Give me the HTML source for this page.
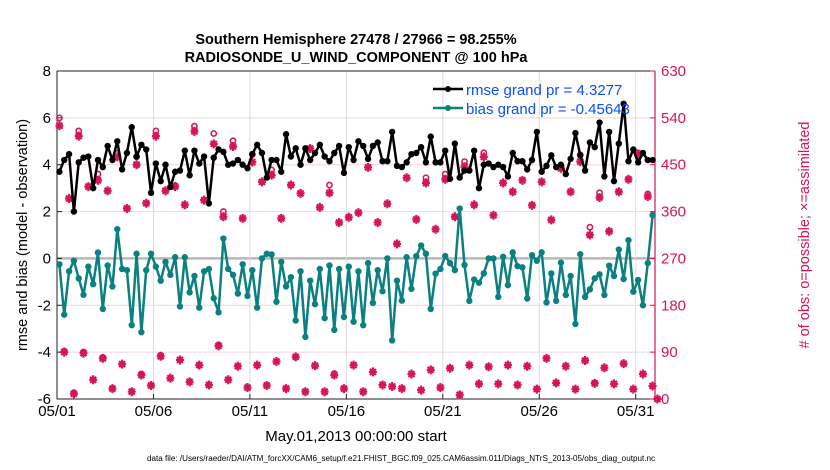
<!DOCTYPE html>
<html><head><meta charset="utf-8"><style>
body{margin:0;background:#fff;}
svg{display:block;font-family:"Liberation Sans",sans-serif;}
</style></head><body>
<svg id="chart" width="830" height="470" viewBox="0 0 830 470">
<text x="356" y="44" text-anchor="middle" font-size="14.5" font-weight="bold">Southern Hemisphere 27478 / 27966 = 98.255%</text>
<text x="356" y="62" text-anchor="middle" font-size="14.5" font-weight="bold">RADIOSONDE_U_WIND_COMPONENT @ 100 hPa</text>
<text transform="translate(27,235) rotate(-90)" text-anchor="middle" font-size="14.5">rmse and bias (model - observation)</text>
<text transform="translate(809,235) rotate(-90)" text-anchor="middle" font-size="14.5" fill="#d6145a"># of obs: o=possible; ×=assimilated</text>
<text x="356" y="441" text-anchor="middle" font-size="15">May.01,2013 00:00:00 start</text>
<text x="147" y="461" font-size="8" textLength="508" lengthAdjust="spacingAndGlyphs">data file: /Users/raeder/DAI/ATM_forcXX/CAM6_setup/f.e21.FHIST_BGC.f09_025.CAM6assim.011/Diags_NTrS_2013-05/obs_diag_output.nc</text>
<g id="grid"></g><g id="axes"></g><g id="marks"></g>
<g>
<line x1="433" y1="89" x2="463" y2="89" stroke="#000" stroke-width="2.5"/><circle cx="448" cy="89" r="3" fill="#000"/>
<text x="466" y="95" font-size="15" fill="#0a50f0">rmse grand pr = 4.3277</text>
<line x1="433" y1="108" x2="463" y2="108" stroke="#0a8080" stroke-width="2.5"/><circle cx="448" cy="108" r="3" fill="#0a8080"/>
<text x="466" y="114" font-size="15" fill="#0a50f0">bias grand pr = -0.45643</text>
</g>
</svg>
<script>
const rmse=[3.7,4.2,4.45,2.0,4.1,4.3,4.35,3.0,4.2,3.9,4.8,4.2,5.0,3.8,4.5,5.6,4.35,4.85,4.65,2.8,4.05,3.3,4.0,3.05,3.7,3.75,4.6,3.55,4.6,4.05,4.35,2.35,4.3,4.65,4.55,4.0,4.05,4.2,4.0,3.85,4.45,4.85,
4.5,3.45,4.2,4.2,3.7,5.3,4.35,4.7,4.0,4.7,4.2,4.5,4.85,4.35,4.15,4.5,4.8,3.65,4.75,4.2,5.0,4.8,4.25,4.8,4.95,4.15,4.15,5.4,3.95,3.9,4.1,4.45,4.5,4.75,4.1,5.2,4.1,4.1,4.6,3.4,4.9,
3.45,3.75,3.75,4.6,3.0,4.0,4.05,3.9,4.0,3.9,3.5,4.5,4.15,4.15,3.8,4.2,5.4,3.7,3.95,4.4,3.9,4.0,3.6,4.25,5.35,4.4,3.75,4.95,4.75,5.8,3.5,5.4,3.3,4.9,6.6,4.15,4.65,4.1,4.5,4.2,4.2];
const bias=[-0.25,-2.4,-0.55,-0.1,-0.85,-1.55,-0.35,-1.1,0.25,-2.15,-0.3,-1.2,1.25,-0.45,-0.5,-2.85,0.2,-3.15,-0.5,0.2,-0.35,-0.95,-0.15,-0.7,0.05,-2.05,0.05,-1.45,-0.75,-2.1,-0.55,-0.45,-1.7,-2.3,0.85,-0.45,-0.7,-1.5,-0.25,-1.6,-0.5,-2.1,
0.0,0.2,0.17,-1.85,-0.15,-1.2,-0.8,-2.65,-0.55,-3.35,-0.95,-1.95,-0.45,-2.55,-0.3,-3.05,-0.45,-2.5,-0.35,-2.7,-0.55,-2.85,-0.2,-1.9,-0.5,-1.4,0.0,-3.5,-0.95,-1.8,0.05,-1.3,0.1,0.55,0.2,-2.15,-0.65,-0.45,0.1,-0.2,-0.5,
2.13,-0.28,-1.81,-0.9,-1.04,-0.64,0,0,-1.64,0.07,-1.14,0.26,-0.33,-0.38,-1.71,0.14,-0.1,0.26,-1.88,-0.64,-1.81,-0.18,-1.56,-0.75,-2.8,0.18,-1.64,-1.32,-0.85,-0.68,-1.56,-0.31,-0.75,0.38,-0.88,0.78,-1.42,-0.92,-2.0,-0.2,1.85];
const nassim=[525,90,385,10,505,88,408,37,420,78,400,20,465,67,366,14,450,46,376,26,505,82,400,40,408,75,373,33,514,65,382,27,490,102,350,37,485,63,347,22,455,65,
417,26,430,72,347,20,411,81,395,14,481,64,368,14,396,46,339,20,349,65,358,14,445,52,339,27,375,24,298,20,425,48,345,17,415,56,326,22,422,59,350,
8,446,65,373,29,465,62,353,29,415,65,398,27,420,63,372,19,417,78,344,31,443,63,398,19,456,74,315,30,387,60,322,29,398,68,422,19,469,48,389,25,0];
const nposs=[540,92,385,12,515,90,408,37,432,80,400,20,472,67,366,14,465,48,376,26,515,84,400,40,410,75,373,33,524,65,382,27,510,104,360,37,496,63,347,22,470,65,
417,26,440,72,347,20,411,81,395,14,481,64,368,14,411,49,339,20,349,65,358,14,445,52,339,27,375,24,298,20,425,48,345,17,425,56,326,22,432,59,350,
8,456,65,373,29,473,62,353,29,415,65,398,27,420,63,372,19,417,78,344,31,447,63,398,19,469,74,330,31,396,60,322,29,398,68,422,19,473,48,394,25,0];
const xTickLabels=["05/01","05/06","05/11","05/16","05/21","05/26","05/31"];
const xTickDays=[0,5,10,15,20,25,30];
const yLeftTicks=[-6,-4,-2,0,2,4,6,8];
const yRightTicks=[0,90,180,270,360,450,540,630];

const X0=57,X1=655,Y0=71,Y1=399;
const xs=d=>X0+(d/31)*(X1-X0);
const yl=v=>Y1-(v+6)/14*(Y1-Y0);
const yr=c=>Y1-c/630*(Y1-Y0);
const tOf=i=>0.125+0.25*i;
const NS="http://www.w3.org/2000/svg";
function mk(tag,attrs,parent){const e=document.createElementNS(NS,tag);for(const k in attrs)e.setAttribute(k,attrs[k]);parent.appendChild(e);return e;}
const grid=document.getElementById('grid'),axes=document.getElementById('axes'),marks=document.getElementById('marks');
const CR="#d6145a";
yLeftTicks.forEach(v=>{
  if(v===-6||v===8)return;
  const l=mk('line',{x1:X0,x2:X1,y1:yl(v),y2:yl(v),stroke:v===0?"#b8b8b8":"#f2d4df","stroke-width":v===0?2.5:1},grid);
  
  
});
xTickDays.forEach(d=>{
  const l=mk('line',{x1:xs(d),x2:xs(d),y1:Y0,y2:Y1,stroke:"#dcdcdc","stroke-width":1},grid);
  
  
});
const frame=mk('path',{d:`M${X0},${Y0}H${X1}M${X0},${Y0}V${Y1}H${X1}`,stroke:"#222",fill:"none","stroke-width":1},axes);


const ra=mk('line',{x1:X1,x2:X1,y1:Y0,y2:Y1,stroke:CR,"stroke-width":1.2},axes);


yLeftTicks.forEach(v=>{
  mk('line',{x1:X0,x2:X0+5,y1:yl(v),y2:yl(v),stroke:"#222"},axes);
  const t=mk('text',{x:X0-6,y:yl(v)+5,"text-anchor":"end","font-size":15},axes);
  t.textContent=v;
  
  
});
yRightTicks.forEach(c=>{
  mk('line',{x1:X1-5,x2:X1,y1:yr(c),y2:yr(c),stroke:CR},axes);
  const t=mk('text',{x:X1+6,y:yr(c)+5,"font-size":15,fill:CR},axes);
  t.textContent=c;
  
  
});
xTickDays.forEach((d,i)=>{
  mk('line',{x1:xs(d),x2:xs(d),y1:Y1,y2:Y1-5,stroke:"#222"},axes);
  const t=mk('text',{x:xs(d),y:Y1+17,"text-anchor":"middle","font-size":15},axes);
  t.textContent=xTickLabels[i];
  
  
});
nposs.forEach((c,i)=>{
  const x=xs(tOf(i));
  if(c!==nassim[i]){
    const p=mk('circle',{cx:x,cy:yr(c),r:2.6,fill:"none",stroke:CR,"stroke-width":1.6},marks);
    
    
  }
});
nassim.forEach((c,i)=>{
  const x=xs(tOf(i)),y=yr(c);
  const g=mk('path',{d:`M${x-4},${y}H${x+4}M${x},${y-4.5}V${y+4.5}M${x-3},${y-3}L${x+3},${y+3}M${x-3},${y+3}L${x+3},${y-3}`,stroke:CR,"stroke-width":2.2},marks);
  
  
  const d=mk('circle',{cx:x,cy:y,r:2.2,fill:CR},marks);
  
  
});
function series(vals,color,name){
  const pts=vals.map((v,i)=>xs(tOf(i)).toFixed(1)+","+yl(v).toFixed(1)).join(" ");
  const pl=mk('polyline',{points:pts,fill:"none",stroke:color,"stroke-width":2.5,"stroke-linejoin":"round"},marks);
  
  
  vals.forEach((v,i)=>{
    const c=mk('circle',{cx:xs(tOf(i)),cy:yl(v),r:3.2,fill:color},marks);
    
    
  });
}
series(rmse,"#000","rmse");
series(bias,"#0a8080","bias");
</script>
</body></html>
